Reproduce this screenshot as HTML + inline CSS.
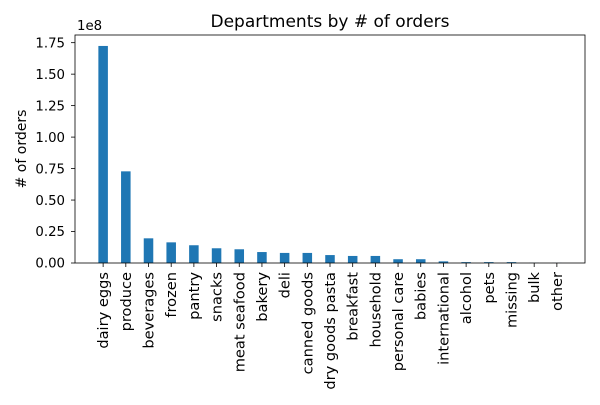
<!DOCTYPE html>
<html><head><meta charset="utf-8"><style>
body{margin:0;background:#fff;font-family:"Liberation Sans","DejaVu Sans",sans-serif;}
svg text{font-family:"DejaVu Sans","Liberation Sans",sans-serif;fill:#000;}
</style></head><body>
<svg id="c" width="600" height="400"></svg>
<script>
const categories=["dairy eggs","produce","beverages","frozen","pantry","snacks","meat seafood","bakery","deli","canned goods","dry goods pasta","breakfast","household","personal care","babies","international","alcohol","pets","missing","bulk","other"];
const orders=[1.724e8,0.728e8,0.196e8,0.164e8,0.141e8,0.117e8,0.109e8,0.087e8,0.080e8,0.080e8,0.063e8,0.056e8,0.056e8,0.030e8,0.030e8,0.013e8,0.007e8,0.007e8,0.007e8,0.0015e8,0.0009e8];
const yTicks=[0,0.25,0.5,0.75,1.0,1.25,1.5,1.75];
const yTickLabels=["0.00","0.25","0.50","0.75","1.00","1.25","1.50","1.75"];
const NS="http://www.w3.org/2000/svg";
const svg=document.getElementById('c');
const L=75,R=585,T=35,B=263;
const xmin=-1.24,xmax=21.24;
const X=v=>L+(v-xmin)/(xmax-xmin)*(R-L);
const Y=v=>B-v/1e8*125.9;
function mk(t,a,p){const e=document.createElementNS(NS,t);for(const k in a)e.setAttribute(k,a[k]);(p||svg).appendChild(e);return e;}
const bw=(X(0.42)-X(0));
categories.forEach((c,i)=>{
  const b=mk('rect',{x:X(i)-bw/2,y:Y(orders[i]),width:bw,height:B-Y(orders[i]),fill:'#1f77b4'});
  
  
  const tk=mk('line',{x1:X(i),x2:X(i),y1:B,y2:B+4,stroke:'#000','stroke-width':0.8});
  
  
  const tx=mk('text',{x:0,y:0,'font-size':14.6,'text-anchor':'end',transform:`translate(${X(i)+5},${B+9}) rotate(-90)`});
  tx.textContent=c;
  
  
});
yTicks.forEach((v,i)=>{
  const y=Y(v*1e8);
  const tk=mk('line',{x1:L-4,x2:L,y1:y,y2:y,stroke:'#000','stroke-width':0.8});
  
  
  const t=mk('text',{x:L-10,y:y+4.7,'font-size':13.3,'text-anchor':'end'});
  t.textContent=yTickLabels[i];
  
  
});
const fr=mk('rect',{x:L,y:T,width:R-L,height:B-T,fill:'none',stroke:'#000','stroke-width':0.8});


const ex=mk('text',{x:L+2,y:30,'font-size':13.3});ex.textContent='1e8';


const ti=mk('text',{x:(L+R)/2,y:27,'font-size':17,'text-anchor':'middle'});ti.textContent='Departments by # of orders';


const yt=mk('text',{x:0,y:0,'font-size':14,'text-anchor':'middle',transform:`translate(26,${(T+B)/2}) rotate(-90)`});yt.textContent='# of orders';


</script>
</body></html>
